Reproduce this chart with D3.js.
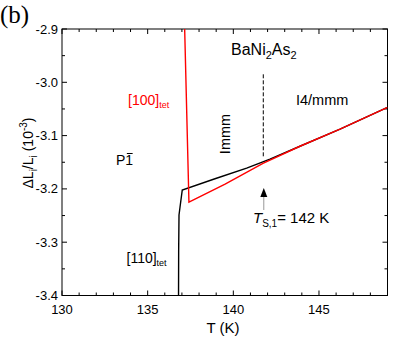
<!DOCTYPE html>
<html><head><meta charset="utf-8">
<script src="https://cdn.jsdelivr.net/npm/d3@7"></script>
<style>
body{margin:0;background:#fff;}
svg{display:block;font-family:"Liberation Sans",Arial,sans-serif;}
</style></head>
<body><svg id="c" width="395" height="345"></svg>
<script>
// ---- data ----
const xTicks = [130, 135, 140, 145];
const xTickLabels = ["130", "135", "140", "145"];
const yTicks = [-2.9, -3.0, -3.1, -3.2, -3.3, -3.4];
const yTickLabels = ["-2.9", "-3.0", "-3.1", "-3.2", "-3.3", "-3.4"];
const xMinor = d3.range(130, 149.5, 1);
const yMinor = d3.range(-3.4, -2.89, 0.05);

const blackT = [136.80, 136.81, 136.83, 136.89, 137.02, 138.93, 140.78, 142.14, 143.89, 146.23, 149.0];
const blackL = [-3.42, -3.314, -3.249, -3.234, -3.202, -3.181, -3.161, -3.144, -3.120, -3.088, -3.047];
const redT = [137.145, 137.41, 139.52, 141.73, 143.89, 146.23, 149.0];
const redL = [-2.88, -3.225, -3.191, -3.152, -3.120, -3.088, -3.047];

const TS = 141.75;       // transition temperature marker
const dashL = [-2.985, -3.14];

// ---- layout ----
const L = 62, R = 387.5, T = 29, B = 295.5;
const x = d3.scaleLinear().domain([130, 149]).range([L, R]);
const y = d3.scaleLinear().domain([-3.4, -2.9]).range([B, T]);
const svg = d3.select("#c");

svg.append("clipPath").attr("id","clip").append("rect")
  .attr("x", L).attr("y", T).attr("width", R - L).attr("height", B - T);

// frame
svg.append("rect").attr("x", L).attr("y", T).attr("width", R - L).attr("height", B - T)
  .attr("fill", "none").attr("stroke", "#000").attr("stroke-width", 1);

// axes ticks (inward)
const g = svg.append("g").attr("stroke", "#000").attr("stroke-width", 1);
xMinor.forEach(v => {
  const major = Math.abs(v % 5) < 1e-6;
  const len = major ? 5 : 3;
  g.append("line").attr("x1", x(v)).attr("x2", x(v)).attr("y1", B).attr("y2", B - len);
  g.append("line").attr("x1", x(v)).attr("x2", x(v)).attr("y1", T).attr("y2", T + len);
});
yMinor.forEach(v => {
  const major = yTicks.some(t => Math.abs(t - v) < 1e-6);
  const len = major ? 5 : 3;
  g.append("line").attr("x1", L).attr("x2", L + len).attr("y1", y(v)).attr("y2", y(v));
  g.append("line").attr("x1", R).attr("x2", R - len).attr("y1", y(v)).attr("y2", y(v));
});

// tick labels
xTicks.forEach((v, i) => {
  svg.append("text").attr("x", x(v)).attr("y", 314).attr("text-anchor", "middle")
    .attr("font-size", 13).text(xTickLabels[i]);
});
yTicks.forEach((v, i) => {
  svg.append("text").attr("x", 58).attr("y", y(v) + 4.5).attr("text-anchor", "end")
    .attr("font-size", 13).text(yTickLabels[i]);
});

// axis titles
svg.append("text").attr("x", 223).attr("y", 333).attr("text-anchor", "middle")
  .attr("font-size", 15).text("T (K)");
const yl = svg.append("text").attr("transform", "translate(33,153) rotate(-90)")
  .attr("text-anchor", "middle").attr("font-size", 14);
yl.append("tspan").text("\u0394L");
yl.append("tspan").attr("font-size", 10).attr("dy", 4).text("i");
yl.append("tspan").attr("dy", -4).text("/L");
yl.append("tspan").attr("font-size", 10).attr("dy", 4).text("i");
yl.append("tspan").attr("dy", -4).text(" (10");
yl.append("tspan").attr("font-size", 10).attr("dy", -6).text("-3");
yl.append("tspan").attr("dy", 6).text(")");

svg.append("text").attr("x", 0).attr("y", 23).attr("font-family", "'Liberation Serif','DejaVu Serif',serif")
  .attr("font-size", 25).text("(b)");

// curves
const line = d3.line().x(d => x(d[0])).y(d => y(d[1]));
const cg = svg.append("g").attr("clip-path", "url(#clip)");
cg.append("path").datum(blackT.map((t, i) => [t, blackL[i]])).attr("d", line)
  .attr("fill", "none").attr("stroke", "#000").attr("stroke-width", 1.4);
cg.append("path").datum(redT.map((t, i) => [t, redL[i]])).attr("d", line)
  .attr("fill", "none").attr("stroke", "#ff0000").attr("stroke-width", 1.4);

// dashed transition line
svg.append("line").attr("x1", x(TS)).attr("x2", x(TS)).attr("y1", y(dashL[0])).attr("y2", y(dashL[1]))
  .attr("stroke", "#000").attr("stroke-width", 1).attr("stroke-dasharray", "4,2");

// arrow
const ax = x(TS) + 0.5;
svg.append("line").attr("x1", ax).attr("x2", ax).attr("y1", 196).attr("y2", 210)
  .attr("stroke", "#999").attr("stroke-width", 1);
svg.append("path").attr("d", `M${ax},188 L${ax-3.5},197 L${ax+3.5},197 Z`).attr("fill", "#000");

// annotations
const ts = svg.append("text").attr("x", 253).attr("y", 223).attr("font-size", 15);
ts.append("tspan").attr("font-style", "italic").text("T");
ts.append("tspan").attr("font-size", 10).attr("dy", 4).text("S,1");
ts.append("tspan").attr("dy", -4).text("= 142 K");

const bn = svg.append("text").attr("x", 231).attr("y", 55).attr("font-size", 16);
bn.append("tspan").text("BaNi");
bn.append("tspan").attr("font-size", 11).attr("dy", 4).text("2");
bn.append("tspan").attr("dy", -4).text("As");
bn.append("tspan").attr("font-size", 11).attr("dy", 4).text("2");

svg.append("text").attr("x", 296).attr("y", 105).attr("font-size", 14.5).text("I4/mmm");
svg.append("text").attr("transform", "translate(229.5,134) rotate(-90)").attr("text-anchor", "middle")
  .attr("font-size", 14.5).text("Immm");

const r100 = svg.append("text").attr("x", 128).attr("y", 105).attr("font-size", 14).attr("fill", "#ff0000");
r100.append("tspan").text("[100]");
r100.append("tspan").attr("font-size", 9).attr("dy", 3).text("tet");

const b110 = svg.append("text").attr("x", 126.5).attr("y", 263).attr("font-size", 14).attr("fill", "#000");
b110.append("tspan").text("[110]");
b110.append("tspan").attr("font-size", 9).attr("dy", 3).text("tet");

// P-1 with overbar on the "1"
const p1 = svg.append("text").attr("x", 116).attr("y", 165).attr("font-size", 14).text("P1");
const pn = p1.node();
const wP = pn.getSubStringLength(0, 1), w1 = pn.getSubStringLength(1, 1);
svg.append("line").attr("x1", 116 + wP + 1.5).attr("x2", 116 + wP + w1 - 0.5)
  .attr("y1", 153.5).attr("y2", 153.5).attr("stroke", "#000").attr("stroke-width", 1);
</script></body></html>
